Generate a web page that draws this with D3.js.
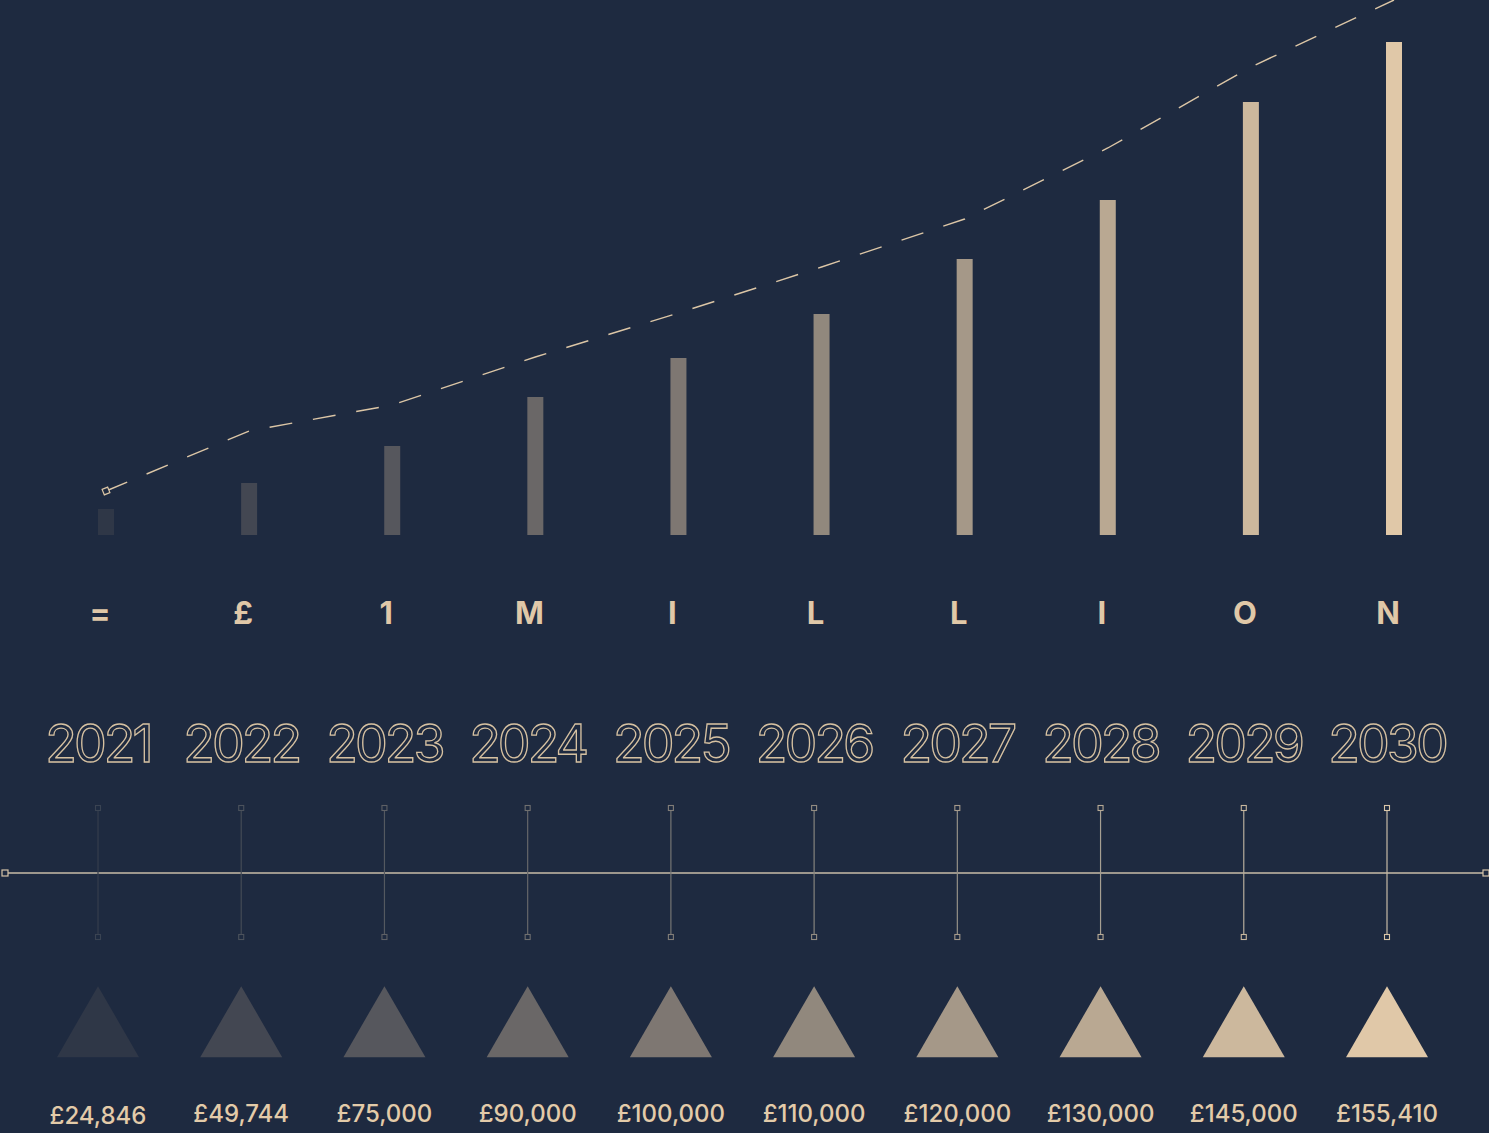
<!DOCTYPE html>
<html>
<head>
<meta charset="utf-8">
<script src="https://cdn.jsdelivr.net/npm/d3@7"></script>
<style>
  html, body { margin: 0; padding: 0; background: #1e2a40; }
  svg { display: block; }
</style>
</head>
<body>
<div id="chart"></div>
<script>
// data
const years = [2021, 2022, 2023, 2024, 2025, 2026, 2027, 2028, 2029, 2030];
const headline = ["=", "£", "1", "M", "I", "L", "L", "I", "O", "N"];
const barValues = [26, 52, 89, 138, 177, 221, 276, 335, 433, 493];
const trendValues = [44, 104, 130, 178, 222, 268, 316, 387, 468, 535];
const salaries = [24846, 49744, 75000, 90000, 100000, 110000, 120000, 130000, 145000, 155410];

var SalaryModule = (() => {

    const width = 1489, height = 1133;
    const bg = "#1e2a40";
    const cream = "#e0c8a8";

    const dataset = years.map((year, i) => ({
        year,
        letter: headline[i],
        bar: barValues[i],
        trend: trendValues[i],
        salary: salaries[i]
    }));

    // columns for the bottom rows, and the slightly shifted ones for the bars
    const xScale = d3.scalePoint().domain(years).range([98, 1387]);
    const barX = d3.scalePoint().domain(years).range([106, 1394]);
    const yScale = d3.scaleLinear().domain([0, 535]).range([535, 0]);

    const shade = d3.scaleLinear()
        .domain([0, years.length - 1])
        .range(["#2f3747", cream])
        .interpolate(d3.interpolateRgb);
    const tickShade = d3.scaleLinear()
        .domain([0, years.length - 1])
        .range(["#343d4c", "#c6bba6"]);
    const boxShade = d3.scaleLinear()
        .domain([0, years.length - 1])
        .range(["#3a4352", "#dac6a8"]);

    const money = v => "£" + d3.format(",")(v);

    const svg = d3.select("#chart")
        .append("svg")
        .attr("width", width)
        .attr("height", height);

    svg.append("rect")
        .attr("width", width)
        .attr("height", height)
        .attr("fill", bg);

    // bars
    svg.append("g")
        .selectAll("rect")
        .data(dataset)
        .join("rect")
        .attr("x", d => barX(d.year) - 8)
        .attr("y", d => yScale(d.bar))
        .attr("width", 16)
        .attr("height", d => yScale(0) - yScale(d.bar))
        .attr("fill", (d, i) => shade(i));

    // dashed trend
    const line = d3.line()
        .x(d => barX(d.year))
        .y(d => yScale(d.trend));

    svg.append("path")
        .datum(dataset)
        .attr("d", line)
        .attr("fill", "none")
        .attr("stroke", "#dcc6a6")
        .attr("stroke-width", 1.4)
        .attr("stroke-dasharray", "23 21");

    svg.append("rect")
        .attr("x", -3)
        .attr("y", -3)
        .attr("width", 6)
        .attr("height", 6)
        .attr("transform", `translate(${barX(years[0])},${yScale(trendValues[0])}) rotate(-22)`)
        .attr("fill", bg)
        .attr("stroke", "#dcc6a6")
        .attr("stroke-width", 1.2);

    // headline letters
    svg.append("g")
        .selectAll("text")
        .data(dataset)
        .join("text")
        .attr("x", d => barX(d.year) - 6)
        .attr("y", 624)
        .attr("text-anchor", "middle")
        .attr("font-family", "Inter, 'Open Sans', sans-serif")
        .attr("font-weight", 700)
        .attr("font-size", 31)
        .attr("fill", cream)
        .text(d => d.letter);

    // outlined years
    svg.append("g")
        .selectAll("text")
        .data(dataset)
        .join("text")
        .attr("x", d => xScale(d.year))
        .attr("y", 762)
        .attr("text-anchor", "middle")
        .attr("font-family", "Inter, 'Open Sans', sans-serif")
        .attr("font-weight", 400)
        .attr("font-size", 52)
        .attr("letter-spacing", -3)
        .attr("fill", bg)
        .attr("stroke", "#d6c1a1")
        .attr("stroke-width", 1.3)
        .text(d => d.year);

    // timeline
    const axisY = 873;
    svg.append("line")
        .attr("x1", 5)
        .attr("x2", width - 3)
        .attr("y1", axisY)
        .attr("y2", axisY)
        .attr("stroke", "#c9bda7")
        .attr("stroke-width", 1.5);

    svg.selectAll(".end")
        .data([5, width - 3])
        .join("rect")
        .attr("class", "end")
        .attr("x", d => d - 3)
        .attr("y", axisY - 3)
        .attr("width", 6)
        .attr("height", 6)
        .attr("fill", bg)
        .attr("stroke", "#d6c4a8")
        .attr("stroke-width", 1.2);

    const ticks = svg.append("g")
        .selectAll("g")
        .data(dataset)
        .join("g")
        .attr("transform", d => `translate(${xScale(d.year)},0)`);

    ticks.append("line")
        .attr("y1", 808)
        .attr("y2", 937)
        .attr("stroke", (d, i) => tickShade(i))
        .attr("stroke-width", 1.2);

    ticks.selectAll("rect")
        .data((d, i) => [808, 937].map(y => ({ y, i })))
        .join("rect")
        .attr("x", -2.5)
        .attr("y", d => d.y - 2.5)
        .attr("width", 5)
        .attr("height", 5)
        .attr("fill", bg)
        .attr("stroke", d => boxShade(d.i))
        .attr("stroke-width", 1.1);

    // triangles
    const triangle = d3.symbol().type(d3.symbolTriangle).size(2911);
    svg.append("g")
        .selectAll("path")
        .data(dataset)
        .join("path")
        .attr("d", triangle)
        .attr("transform", d => `translate(${xScale(d.year)},1033.5)`)
        .attr("fill", (d, i) => shade(i));

    // salary labels
    svg.append("g")
        .selectAll("text")
        .data(dataset)
        .join("text")
        .attr("x", d => xScale(d.year))
        .attr("y", (d, i) => i === 0 ? 1124 : 1122)
        .attr("text-anchor", "middle")
        .attr("font-family", "Inter, 'Open Sans', sans-serif")
        .attr("font-weight", 500)
        .attr("font-size", 24)
        .attr("fill", "#e3cba9")
        .text(d => money(d.salary));

})();
</script>
</body>
</html>
